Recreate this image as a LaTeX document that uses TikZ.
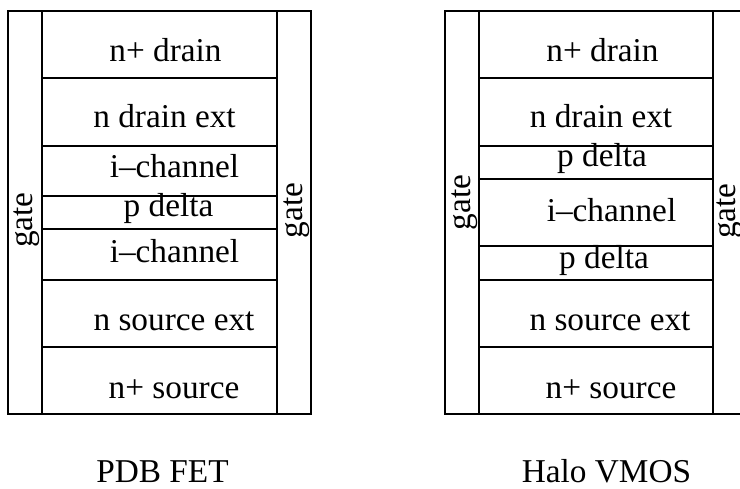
\documentclass[tikz,border=0pt]{standalone}
\usepackage{fontspec}
\setmainfont{Liberation Serif}
\begin{document}
\begin{tikzpicture}[x=1bp,y=-1bp,
  wall/.style={line width=1.4bp,line cap=rect},
  lbl/.style={inner sep=0pt,anchor=base,font=\fontsize{33.3bp}{36bp}\selectfont},
  gatelbl/.style={lbl,rotate=90}]
\useasboundingbox (0,0) rectangle (740,489);
% ---- PDB FET ----
\draw[wall] (8,11) rectangle (311,414);
\draw[wall] (42,11) -- (42,414);
\draw[wall] (277,11) -- (277,414);
\foreach \yy in {78,146,196,229,280,347} \draw[wall] (42,\yy) -- (277,\yy);
\node[lbl] (a1) at (165.5,62) {n+ drain};
\node[lbl] (a2) at (164.5,128) {n drain ext};
\node[lbl] (a3) at (174.5,178) {i\textendash channel};
\node[lbl] (a4) at (168.5,217) {p delta};
\node[lbl] (a5) at (174.5,263) {i\textendash channel};
\node[lbl] (a6) at (174,330) {n source ext};
\node[lbl] (a7) at (174,398) {n+ source};
\node[gatelbl] (ag1) at (32.5,220) {gate};
\node[gatelbl] (ag2) at (302.5,210.5) {gate};
\node[lbl] (at) at (162.5,482) {PDB FET};
% ---- Halo VMOS ----
\draw[wall] (752,11) -- (445,11) -- (445,414) -- (752,414);
\draw[wall] (479,11) -- (479,414);
\draw[wall] (713,11) -- (713,414);
\foreach \yy in {78,146,179,246,280,347} \draw[wall] (479,\yy) -- (713,\yy);
\node[lbl] (b1) at (602.5,62) {n+ drain};
\node[lbl] (b2) at (601,128) {n drain ext};
\node[lbl] (b3) at (602,167) {p delta};
\node[lbl] (b4) at (611.5,222) {i\textendash channel};
\node[lbl] (b5) at (604,269) {p delta};
\node[lbl] (b6) at (610,330) {n source ext};
\node[lbl] (b7) at (611,398) {n+ source};
\node[gatelbl] (bg1) at (470.5,202.5) {gate};
\node[gatelbl] (bg2) at (735,211) {gate};
\node[lbl] (bt) at (606.5,482) {Halo VMOS};
\end{tikzpicture}
\end{document}
